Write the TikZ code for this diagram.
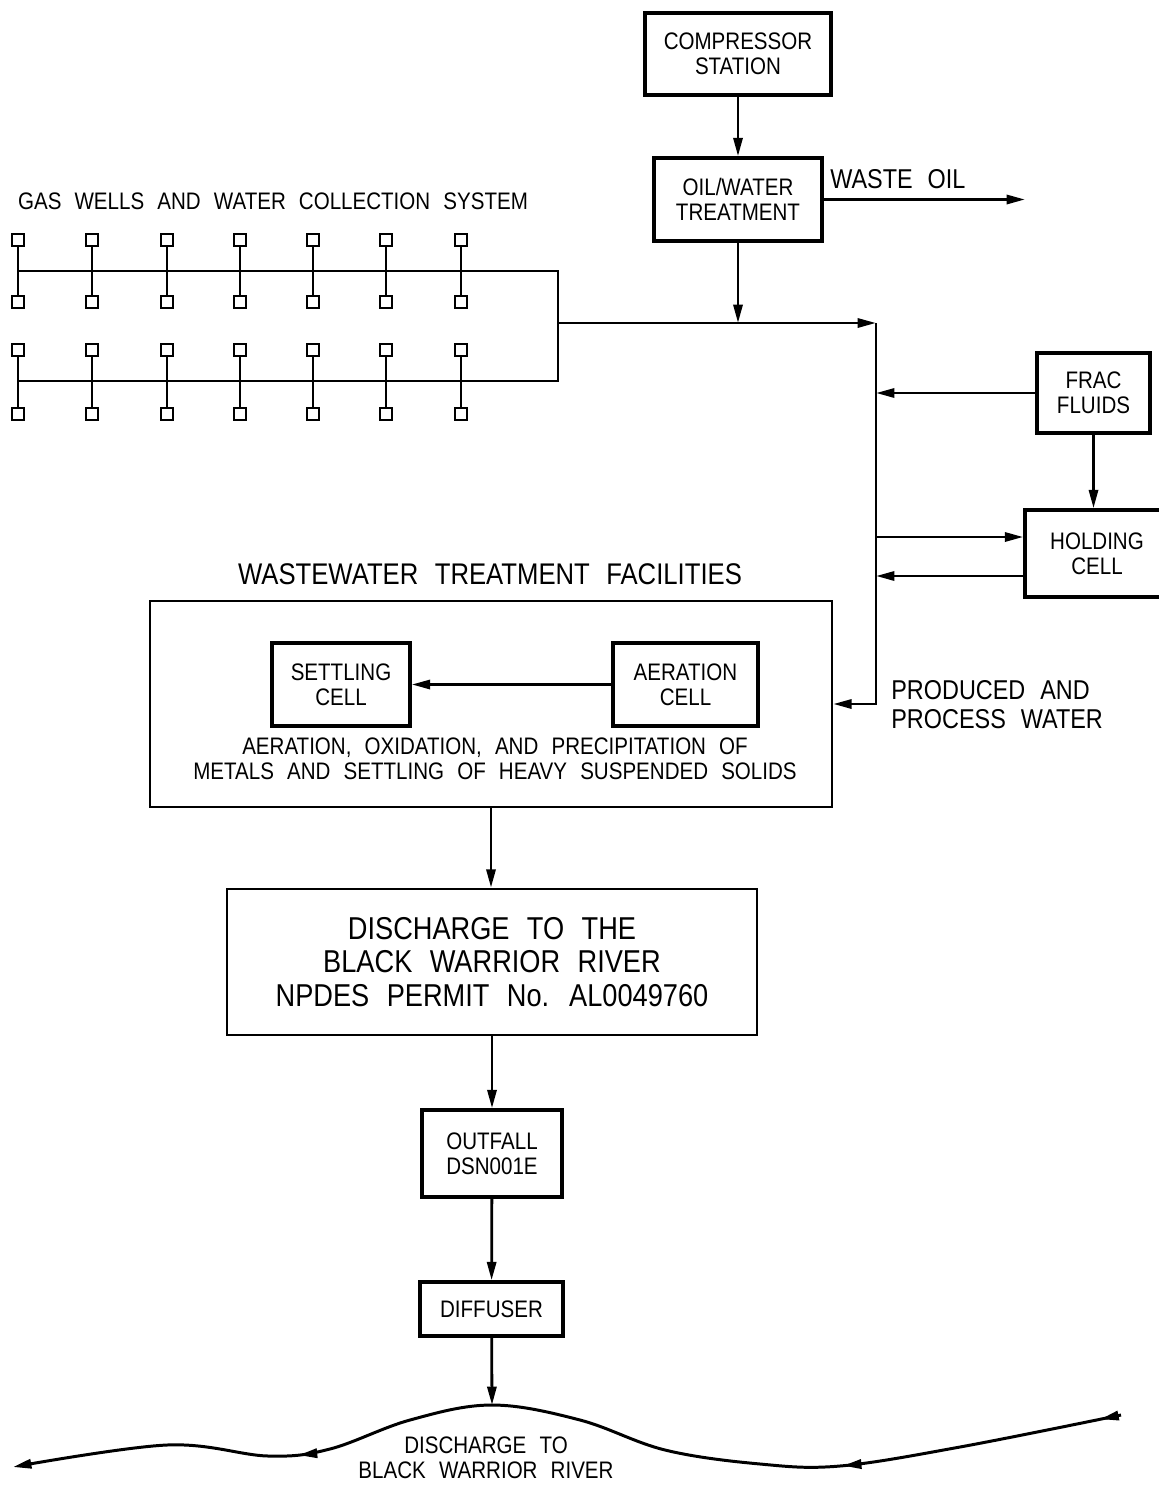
\documentclass[tikz,border=0pt]{standalone}
\usepackage{fontspec}
\setmainfont{Liberation Sans}[FakeStretch=0.86]
\usepackage{tikz}
\usetikzlibrary{arrows.meta,positioning,decorations.markings}
\definecolor{cadink}{RGB}{0,0,0}
\newcommand{\cadsmall}{\fontsize{13.6pt}{14pt}\selectfont\spaceskip=0.55em plus 0.1em\relax}
\newcommand{\cadmid}{\fontsize{15.5pt}{16.5pt}\selectfont\spaceskip=0.55em plus 0.1em\relax}
\newcommand{\cadttl}{\fontsize{17pt}{18pt}\selectfont\spaceskip=0.55em plus 0.1em\relax}
\newcommand{\cadbig}{\fontsize{18pt}{19pt}\selectfont\spaceskip=0.55em plus 0.1em\relax}

\begin{document}
\begin{tikzpicture}[x=0.02cm,y=-0.02cm,
  box/.style={draw=cadink, line width=2pt, align=center, inner sep=0pt, font=\cadsmall},
  bigbox/.style={draw=cadink, line width=1.5pt, align=center, inner sep=0pt},
  pipe/.style={draw=cadink, line width=1.6pt},
  flow/.style={pipe, -{Triangle[length=10.5pt,width=5.2pt]}},
  well/.style={draw=cadink, line width=1.5pt, minimum size=7pt, inner sep=0pt},
  lbl/.style={align=center, inner sep=0pt, text=cadink}]
\useasboundingbox (0,0) rectangle (1159,1491);

\node[box, minimum width=3.72cm, minimum height=1.64cm] (comp) at (738,54) {COMPRESSOR\\STATION};
\node[box, minimum width=3.36cm, minimum height=1.66cm] (oilw) at (738,199.5) {OIL/WATER\\TREATMENT};
\node[box, minimum width=2.26cm, minimum height=1.6cm] (frac) at (1093.5,393) {FRAC\\FLUIDS};
\node[box, minimum width=2.88cm, minimum height=1.74cm] (hold) at (1097,553.5) {HOLDING\\CELL};
\node[bigbox, minimum width=13.64cm, minimum height=4.12cm] (wwtf) at (491,704) {};
\node[box, minimum width=2.76cm, minimum height=1.66cm] (settle) at (341,684.5) {SETTLING\\CELL};
\node[box, minimum width=2.9cm, minimum height=1.66cm] (aer) at (685.5,684.5) {AERATION\\CELL};
\node[bigbox, font=\cadbig, minimum width=10.6cm, minimum height=2.92cm] (disch) at (492,962) {DISCHARGE TO THE\\BLACK WARRIOR RIVER\\NPDES PERMIT No. AL0049760};
\node[box, minimum width=2.8cm, minimum height=1.74cm] (outf) at (492,1153.5) {OUTFALL\\DSN001E};
\node[box, minimum width=2.86cm, minimum height=1.08cm] (diff) at (491.5,1309) {DIFFUSER};

\node[lbl, font=\cadsmall] (wellsttl) at (273,201) {GAS WELLS AND WATER COLLECTION SYSTEM};
\node[lbl, font=\cadmid, anchor=west] (oillbl) at (830,179) {WASTE OIL};
\node[lbl, font=\cadttl] (wwtfttl) at (490,574) {WASTEWATER TREATMENT FACILITIES};
\node[lbl, font=\cadsmall] (wwtftxt) at (495,759) {AERATION, OXIDATION, AND PRECIPITATION OF\\METALS AND SETTLING OF HEAVY SUSPENDED SOLIDS};
\node[lbl, font=\cadmid, align=left, anchor=west] (prodlbl) at (891,704.5) {PRODUCED AND\\PROCESS WATER};
\node[lbl, font=\cadsmall] (riverlbl) at (486,1458) {DISCHARGE TO\\BLACK WARRIOR RIVER};

\foreach \c [count=\i] in {18,92,167,240,313,386,461} {
  \node[well] (w\i a) at (\c,240) {};
  \node[well] (w\i b) at (\c,302) {};
  \node[well] (w\i c) at (\c,350) {};
  \node[well] (w\i d) at (\c,414) {};
  \draw[pipe] (w\i a) -- (w\i b);
  \draw[pipe] (w\i c) -- (w\i d);
}
\coordinate (bustop) at (558,271);
\coordinate (busbot) at (558,381);
\coordinate (junc) at (558,323);
\coordinate (main) at (876,323);
\coordinate (oilend) at (1025,199.5);
\coordinate (hin) at ([yshift=0.33cm]hold.west);
\coordinate (hout) at ([yshift=-0.45cm]hold.west);
\coordinate (peak) at (492,1405);

\draw[pipe] (w1a |- bustop) -- (bustop) -- (busbot) -- (w1c |- busbot);
\draw[flow] (junc) -- (main);
\draw[flow] (main) |- (wwtf.east);
\draw[flow] (comp) -- (oilw);
\draw[flow] (oilw) -- (oilw |- junc);
\draw[flow] (oilw.east) -- (oilend);
\draw[flow] (frac.west) -- (frac.west -| main);
\draw[flow] (frac) -- (frac |- hold.north);
\draw[flow] (hin -| main) -- (hin);
\draw[flow] (hout) -- (hout -| main);
\draw[flow] (aer) -- (settle);
\draw[flow] (wwtf.south) -- (wwtf.south |- disch.north);
\draw[flow] (disch) -- (outf);
\draw[flow] (outf) -- (diff);
\draw[flow] (diff) -- (peak);

\draw[flow, line width=1.7pt, postaction={decorate}, decoration={markings,
  mark=at position 12pt with {\arrow{Triangle[length=10.5pt,width=5.2pt]}},
  mark=at position 0.25 with {\arrow{Triangle[length=10.5pt,width=5.2pt]}},
  mark=at position 0.745 with {\arrow{Triangle[length=10.5pt,width=5.2pt]}}}]
  plot[smooth, tension=0.6] coordinates {(1121,1415) (960,1447) (840,1466) (760,1464) (665,1450) (580,1420) (492,1405) (410,1420) (330,1449) (268,1456) (167,1445) (13,1467)};
\end{tikzpicture}
\end{document}
